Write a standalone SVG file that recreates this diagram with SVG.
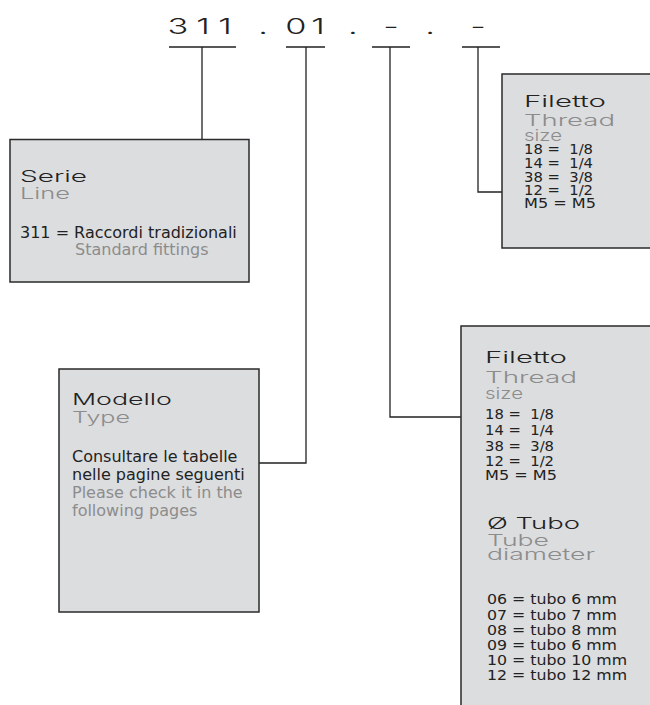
<svg xmlns="http://www.w3.org/2000/svg" width="650" height="705" viewBox="0 0 650 705">
<style>
.box{fill:#dcdddf;stroke:#2a2a2a;stroke-width:1.5}
.con{stroke:#222;stroke-width:1.3;fill:none}
.h{font-family:Inter,"DejaVu Sans",sans-serif;font-weight:300;font-size:16.5px;fill:#222}
.hg{font-family:Inter,"DejaVu Sans",sans-serif;font-weight:300;font-size:16.5px;fill:#8c8c8c}
.t{font-family:"DejaVu Sans",sans-serif;font-size:16px;fill:#222}
.tg{font-family:"DejaVu Sans",sans-serif;font-size:16px;fill:#8c8c8c}
.l{font-family:"DejaVu Sans",sans-serif;font-size:13.5px;fill:#222}
.code{font-family:Inter,"DejaVu Sans",sans-serif;font-weight:300;font-size:21.5px;fill:#222;text-anchor:middle}
</style>
<rect width="650" height="705" fill="#fff"/>
<g id="code" transform="scale(1.6 1)">
<text class="code" x="111.25 126.9 140.6 164.4 185 198.75 220.6 244.4 268.75 298.75" y="34">311.01.-.-</text>
</g>
<g id="connectors">
<path class="con" d="M169 47H236M202 47V139.5"/>
<path class="con" d="M286 47H325M306 47V463H259"/>
<path class="con" d="M372 47H410M390 47V417H461"/>
<path class="con" d="M462 47H500M478 47V192H502"/>
</g>
<g id="serie">
<rect class="box" x="10" y="139.5" width="239" height="142.5"/>
<text class="h" x="20" y="182" textLength="67" lengthAdjust="spacingAndGlyphs">Serie</text>
<text class="hg" x="20" y="199" textLength="50" lengthAdjust="spacingAndGlyphs">Line</text>
<text class="t" x="20" y="238">311 = Raccordi tradizionali</text>
<text class="tg" x="75" y="255">Standard fittings</text>
</g>
<g id="modello">
<rect class="box" x="59" y="369" width="200" height="243"/>
<text class="h" x="72" y="405" textLength="100" lengthAdjust="spacingAndGlyphs">Modello</text>
<text class="hg" x="72" y="423" textLength="58" lengthAdjust="spacingAndGlyphs">Type</text>
<text class="t" x="72" y="462">Consultare le tabelle</text>
<text class="t" x="72" y="480">nelle pagine seguenti</text>
<text class="tg" x="72" y="498">Please check it in the</text>
<text class="tg" x="72" y="516">following pages</text>
</g>
<g id="filetto1">
<rect class="box" x="502" y="74" width="160" height="174"/>
<text class="h" x="524" y="107" textLength="82" lengthAdjust="spacingAndGlyphs">Filetto</text>
<text class="hg" x="524" y="126" textLength="91" lengthAdjust="spacingAndGlyphs">Thread</text>
<text class="hg" x="524" y="141" textLength="38" lengthAdjust="spacingAndGlyphs">size</text>
<text class="l" x="524" y="154" xml:space="preserve" textLength="69" lengthAdjust="spacingAndGlyphs">18 =  1/8</text>
<text class="l" x="524" y="168" xml:space="preserve" textLength="69" lengthAdjust="spacingAndGlyphs">14 =  1/4</text>
<text class="l" x="524" y="182" xml:space="preserve" textLength="69" lengthAdjust="spacingAndGlyphs">38 =  3/8</text>
<text class="l" x="524" y="195" xml:space="preserve" textLength="69" lengthAdjust="spacingAndGlyphs">12 =  1/2</text>
<text class="l" x="524" y="208" textLength="72" lengthAdjust="spacingAndGlyphs">M5 = M5</text>
</g>
<g id="filetto2">
<rect class="box" x="461" y="326" width="200" height="400"/>
<text class="h" x="485" y="363" textLength="82" lengthAdjust="spacingAndGlyphs">Filetto</text>
<text class="hg" x="485" y="383" textLength="92" lengthAdjust="spacingAndGlyphs">Thread</text>
<text class="hg" x="485" y="399" textLength="38" lengthAdjust="spacingAndGlyphs">size</text>
<text class="l" x="485" y="419" xml:space="preserve" textLength="69" lengthAdjust="spacingAndGlyphs">18 =  1/8</text>
<text class="l" x="485" y="435" xml:space="preserve" textLength="69" lengthAdjust="spacingAndGlyphs">14 =  1/4</text>
<text class="l" x="485" y="451" xml:space="preserve" textLength="69" lengthAdjust="spacingAndGlyphs">38 =  3/8</text>
<text class="l" x="485" y="466" xml:space="preserve" textLength="69" lengthAdjust="spacingAndGlyphs">12 =  1/2</text>
<text class="l" x="485" y="480" textLength="72" lengthAdjust="spacingAndGlyphs">M5 = M5</text>
<text class="h" x="487" y="529" textLength="93" lengthAdjust="spacingAndGlyphs">Ø Tubo</text>
<text class="hg" x="487" y="546" textLength="62" lengthAdjust="spacingAndGlyphs">Tube</text>
<text class="hg" x="487" y="560" textLength="108" lengthAdjust="spacingAndGlyphs">diameter</text>
<text class="l" x="487" y="604" textLength="130" lengthAdjust="spacingAndGlyphs">06 = tubo 6 mm</text>
<text class="l" x="487" y="620" textLength="130" lengthAdjust="spacingAndGlyphs">07 = tubo 7 mm</text>
<text class="l" x="487" y="635" textLength="130" lengthAdjust="spacingAndGlyphs">08 = tubo 8 mm</text>
<text class="l" x="487" y="650" textLength="130" lengthAdjust="spacingAndGlyphs">09 = tubo 6 mm</text>
<text class="l" x="487" y="665" textLength="140" lengthAdjust="spacingAndGlyphs">10 = tubo 10 mm</text>
<text class="l" x="487" y="680" textLength="140" lengthAdjust="spacingAndGlyphs">12 = tubo 12 mm</text>
</g>
</svg>
